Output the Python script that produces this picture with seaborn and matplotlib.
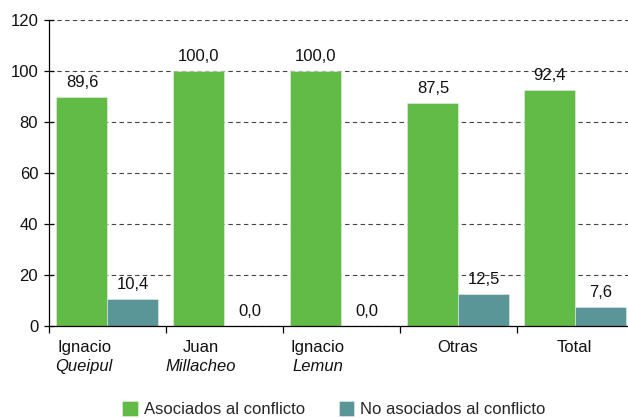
import matplotlib
matplotlib.use("Agg")
import matplotlib.pyplot as plt
import seaborn as sns
import pandas as pd

# Data
first_names = ["Ignacio", "Juan", "Ignacio", "Otras", "Total"]
surnames = ["Queipul", "Millacheo", "Lemun", "", ""]
asociados = [89.6, 100.0, 100.0, 87.5, 92.4]
no_asociados = [10.4, 0.0, 0.0, 12.5, 7.6]
series_names = ["Asociados al conflicto", "No asociados al conflicto"]
y_ticks = [0, 20, 40, 60, 80, 100, 120]

GREEN = "#62BB47"
TEAL = "#5A9597"
FS = 12

sns.set_theme(style="white")
plt.rcParams["font.family"] = ["Liberation Sans", "DejaVu Sans"]

groups = [f"{a} {b}".strip() for a, b in zip(first_names, surnames)]
df = pd.DataFrame({
    "grupo": groups * 2,
    "serie": [series_names[0]] * len(groups) + [series_names[1]] * len(groups),
    "pct": asociados + no_asociados,
})

fig = plt.figure(figsize=(6.28, 4.18), dpi=100)
ax = fig.add_axes([49 / 628, 1 - 326 / 418, 1 - 49 / 628, (326 - 19.5) / 418])

sns.barplot(data=df, x="grupo", y="pct", hue="serie", order=groups,
            hue_order=series_names, palette=[GREEN, TEAL], saturation=1,
            width=0.872, gap=0, errorbar=None, ax=ax,
            edgecolor="#e8f0e8", linewidth=0.4)

# value labels above each bar
for cont, vals in zip(ax.containers, [asociados, no_asociados]):
    ax.bar_label(cont, labels=[f"{v:.1f}".replace(".", ",") for v in vals],
                 padding=5, fontsize=FS, color="#111111")

ax.set_xlim(-0.5, 4.45)
ax.set_ylim(0, 120)
ax.set_yticks(y_ticks)
ax.set_yticklabels([str(t) for t in y_ticks], fontsize=FS, color="#111111")
ax.set_xticks([i - 0.5 for i in range(len(groups))])
ax.set_xticklabels([])
ax.set_xlabel("")
ax.set_ylabel("")

ax.tick_params(axis="y", direction="inout", length=7.5, width=0.9,
               color="black", pad=4, left=True)
ax.tick_params(axis="x", direction="out", length=5, width=0.9,
               color="black", bottom=True)

for side in ["top", "right"]:
    ax.spines[side].set_visible(False)
for side in ["left", "bottom"]:
    ax.spines[side].set_color("black")
    ax.spines[side].set_linewidth(0.9)

ax.set_axisbelow(True)
ax.yaxis.grid(True, linestyle=(0, (4, 3)), color="#444444", linewidth=0.8)
ax.xaxis.grid(False)

# category labels, surname in italics on a second line
for i, (fn, sn) in enumerate(zip(first_names, surnames)):
    shift = -0.2 if sn else -0.01
    ax.annotate(fn, xy=(i + shift, 0), xycoords=("data", "axes fraction"),
                xytext=(0, -19), textcoords="offset points",
                ha="center", va="baseline", fontsize=FS, color="#111111")
    if sn:
        ax.annotate(sn, xy=(i + shift, 0), xycoords=("data", "axes fraction"),
                    xytext=(0, -32.5), textcoords="offset points",
                    ha="center", va="baseline", fontsize=FS,
                    style="italic", color="#111111")

handles, labels = ax.get_legend_handles_labels()
if ax.get_legend() is not None:
    ax.get_legend().remove()
fig.legend(handles, labels, loc="upper center",
           bbox_to_anchor=(334 / 628, 1 - 393 / 418), ncol=2, frameon=False,
           handlelength=0.95, handleheight=0.95, handletextpad=0.35,
           columnspacing=2.0, borderpad=0, fontsize=FS)

fig.savefig("out.png", dpi=100)
